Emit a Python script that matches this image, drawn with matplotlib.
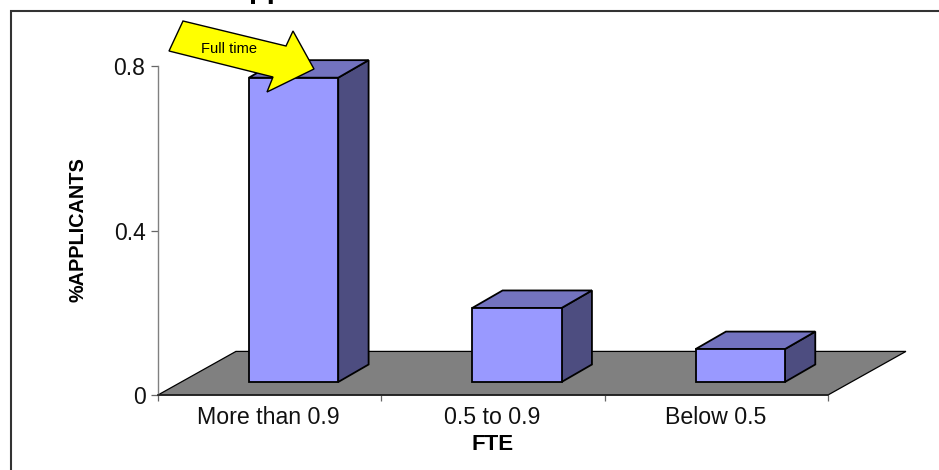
import matplotlib
matplotlib.use("Agg")
import matplotlib.pyplot as plt
from matplotlib.patches import Polygon

plt.rcParams['font.family'] = ['Liberation Sans', 'DejaVu Sans']

categories = ["More than 0.9", "0.5 to 0.9", "Below 0.5"]
values = [0.74, 0.18, 0.08]
y_ticks = [0, 0.4, 0.8]
y_tick_labels = ["0", "0.4", "0.8"]
title_text = "Applicants"
x_title = "FTE"
y_title = "%APPLICANTS"
note_text = "Full time"

W, H = 939, 470
L, R, T, B = 158, 828, 66, 395

fig = plt.figure(figsize=(W / 100, H / 100), dpi=100, facecolor="white")
ax = fig.add_axes([L / W, 1 - B / H, (R - L) / W, (B - T) / H], facecolor="none")
ax.set_xlim(0, 3)
ax.set_ylim(0, 0.8)

FRONT, TOP, SIDE, FLOOR = "#9999FF", "#7373BF", "#4D4D80", "#808080"
bar_shift, bar_w, base = 0.607, 0.4, 0.0316
dep_x, dep_y = 0.136, 0.0426
floor_x, floor_y = 0.349, 0.106

ax.add_patch(Polygon([(0, 0), (floor_x, floor_y), (3 + floor_x, floor_y), (3, 0)],
                     closed=True, fc=FLOOR, ec="black", lw=0.9, clip_on=False, zorder=1))

xs = [i + bar_shift for i in range(len(values))]
ax.bar(xs, values, width=bar_w, bottom=base, color=FRONT, edgecolor="black",
       linewidth=1.3, zorder=3, clip_on=False)
for x, v in zip(xs, values):
    x0, x1 = x - bar_w / 2, x + bar_w / 2
    y0, y1 = base, base + v
    ax.add_patch(Polygon([(x1, y0), (x1 + dep_x, y0 + dep_y), (x1 + dep_x, y1 + dep_y), (x1, y1)],
                         closed=True, fc=SIDE, ec="black", lw=1.3, clip_on=False, zorder=2))
    ax.add_patch(Polygon([(x0, y1), (x0 + dep_x, y1 + dep_y), (x1 + dep_x, y1 + dep_y), (x1, y1)],
                         closed=True, fc=TOP, ec="black", lw=1.3, clip_on=False, zorder=2))

for s in ("top", "right"):
    ax.spines[s].set_visible(False)
ax.spines["left"].set_color("#808080")
ax.spines["left"].set_linewidth(1.0)
ax.spines["bottom"].set_color("#222222")
ax.spines["bottom"].set_linewidth(1.2)
ax.spines["left"].set_zorder(5)
ax.spines["bottom"].set_zorder(5)

ax.set_yticks(y_ticks)
ax.set_yticklabels(y_tick_labels, fontsize=16.5, color="#111111")
ax.tick_params(axis="y", length=5, width=0.9, color="#666666", pad=4)
ax.set_xticks([0, 1, 2, 3])
ax.set_xticklabels([])
ax.tick_params(axis="x", length=4.5, width=0.9, color="#666666")
for i, c in enumerate(categories):
    ax.annotate(c, xy=(i + 0.5, 0), xycoords=("data", "axes fraction"), xytext=(-1, -22),
                textcoords="offset pixels", ha="center", va="center",
                fontsize=16.7, color="#111111")

# page-level overlay in pixel coordinates: frame, clipped title, call-out arrow
ov = fig.add_axes([0, 0, 1, 1], facecolor="none", zorder=10)
ov.set_xlim(0, W)
ov.set_ylim(H, 0)
ov.axis("off")
ov.plot([939, 11, 11], [10.5, 10.5, 470], color="#333333", lw=1.5, solid_joinstyle="miter", clip_on=False)
ov.text(228, -2, title_text, fontsize=21, fontweight="bold", ha="left", va="baseline", color="black", clip_on=False)
ov.text(493, 445, x_title, fontsize=16, fontweight="bold", ha="center", va="center", color="black")
ov.text(78, 230, y_title, fontsize=14.3, fontweight="bold", rotation=90, ha="center", va="center", color="black")
ov.add_patch(Polygon([(183, 21), (286, 46), (293, 31), (314, 69), (267, 92), (273, 77), (169, 51)],
                     closed=True, fc="#FFFF00", ec="black", lw=1.0))
ov.text(229, 49, note_text, fontsize=10.5, ha="center", va="center", color="black")

fig.savefig("out.png", dpi=100)
